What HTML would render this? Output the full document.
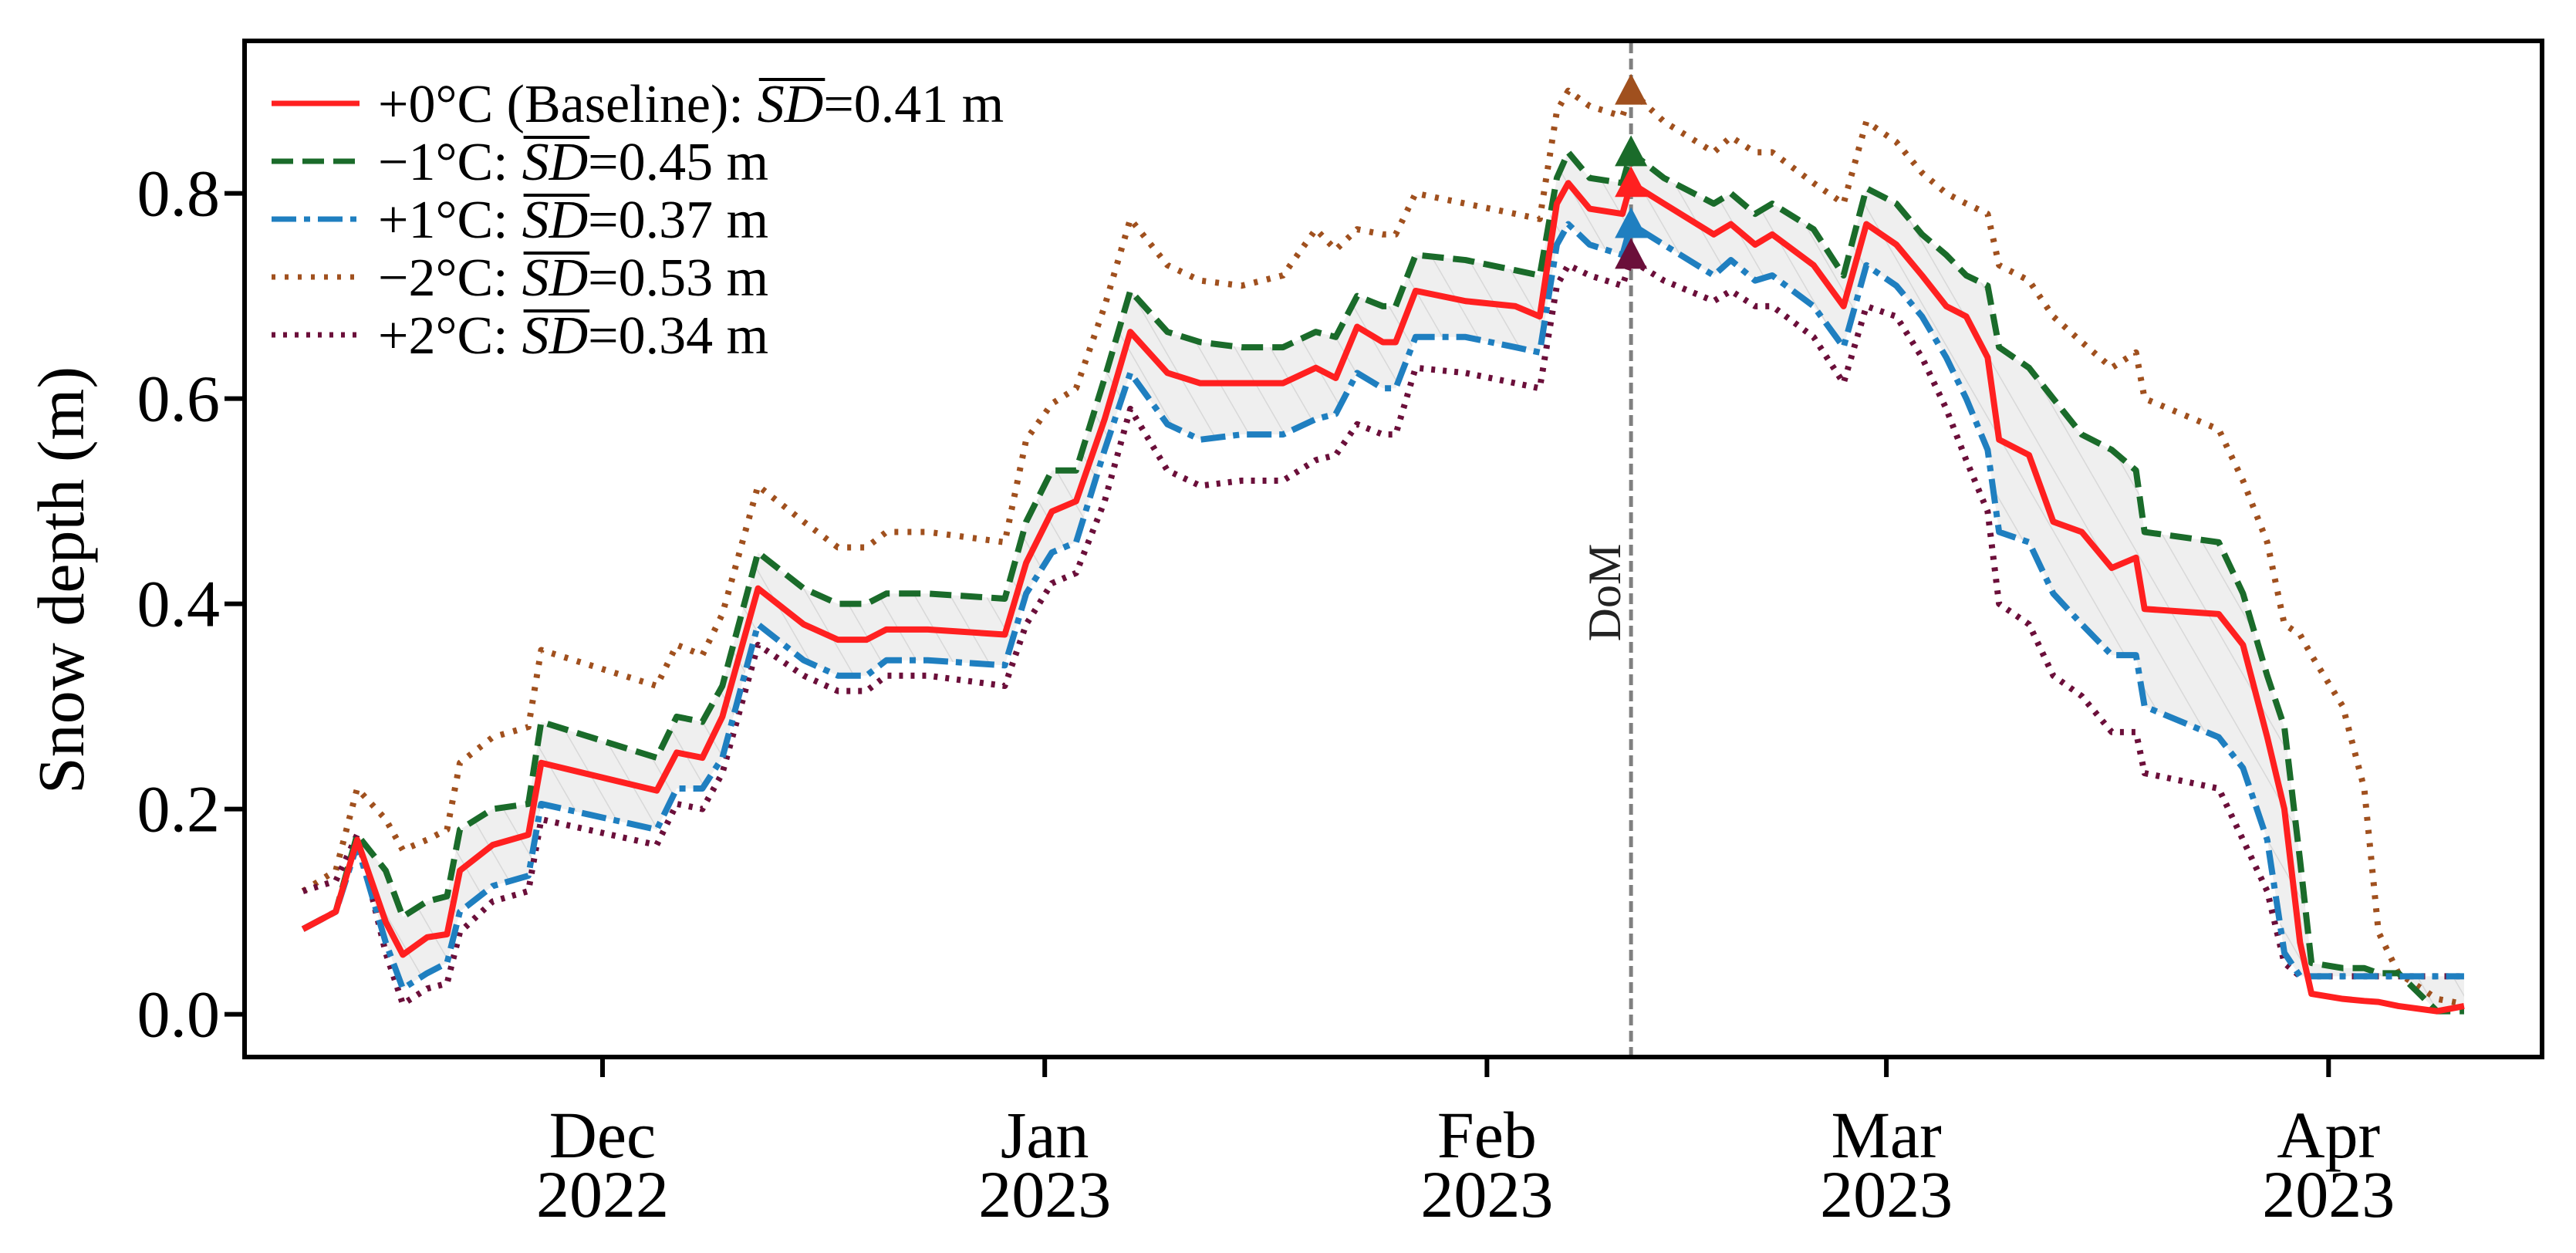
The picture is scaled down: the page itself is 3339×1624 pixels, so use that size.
<!DOCTYPE html>
<html><head><meta charset="utf-8">
<style>
html,body{margin:0;padding:0;background:#fff;}
svg{display:block;font-family:"Liberation Serif",serif;}
</style></head>
<body>
<svg id="chart" width="3339" height="1624" viewBox="0 0 3339 1624" xmlns="http://www.w3.org/2000/svg">
<defs>
<pattern id="hatch" patternUnits="userSpaceOnUse" width="40" height="40" patternTransform="rotate(-30)">
<rect width="40" height="40" fill="#efefef"/>
<line x1="0" y1="0" x2="0" y2="40" stroke="#d8d8d8" stroke-width="3"/>
</pattern>
<clipPath id="plotclip"><rect x="317" y="55" width="2977" height="1313"/></clipPath>
</defs>
<g id="plot" clip-path="url(#plotclip)"></g>
<g id="axes"></g>
</svg>
<script>
// days relative to 1 Dec 2022
const days = [-21,-18.7,-17.2,-15.2,-14,-12.3,-10.9,-10,-7.7,-5.2,-4.3,3.8,5.2,7,8.4,10.9,14.1,16.5,18.5,19.9,22.8,28.2,29.7,31.5,33.2,35.2,37,39.6,41.9,44.8,47.7,50,51.4,52.9,54.7,55.6,57,60.5,64,65.7,66.9,67.7,69.2,71.5,72.1,74.4,77.9,79.1,80.8,82,84.9,87,88.6,90.7,92.5,94.2,95.6,97.1,97.9,100,101.7,103.7,105.8,107.5,108.1,113.3,115,116.7,117.9,119,119.8,122,123.5,124.5,125.9,128.6,130.5];
const base = [0.083,0.1,0.17,0.09,0.058,0.075,0.078,0.14,0.165,0.175,0.245,0.218,0.255,0.25,0.29,0.415,0.38,0.365,0.365,0.375,0.375,0.37,0.44,0.49,0.5,0.58,0.665,0.625,0.615,0.615,0.615,0.63,0.62,0.67,0.655,0.655,0.705,0.695,0.69,0.68,0.79,0.81,0.785,0.78,0.81,0.79,0.76,0.77,0.75,0.76,0.73,0.69,0.77,0.75,0.72,0.69,0.68,0.64,0.56,0.545,0.48,0.47,0.435,0.445,0.395,0.39,0.36,0.27,0.2,0.07,0.02,0.015,0.013,0.012,0.008,0.003,0.008];
const minus1 = [0.083,0.1,0.175,0.14,0.095,0.11,0.115,0.18,0.2,0.205,0.285,0.25,0.29,0.285,0.32,0.45,0.415,0.4,0.4,0.41,0.41,0.405,0.48,0.53,0.53,0.62,0.705,0.665,0.655,0.65,0.65,0.665,0.66,0.7,0.69,0.69,0.74,0.735,0.725,0.72,0.815,0.84,0.815,0.81,0.84,0.815,0.79,0.8,0.78,0.79,0.765,0.72,0.805,0.79,0.76,0.74,0.72,0.71,0.65,0.63,0.6,0.565,0.55,0.53,0.47,0.46,0.41,0.33,0.28,0.15,0.05,0.045,0.045,0.04,0.04,0.003,0.003];
const plus1 = [0.083,0.1,0.165,0.07,0.025,0.04,0.05,0.1,0.125,0.135,0.205,0.18,0.22,0.22,0.25,0.38,0.345,0.33,0.33,0.345,0.345,0.34,0.41,0.45,0.46,0.55,0.625,0.575,0.56,0.565,0.565,0.58,0.585,0.625,0.61,0.61,0.66,0.66,0.65,0.645,0.75,0.77,0.75,0.74,0.77,0.75,0.72,0.735,0.715,0.72,0.69,0.65,0.73,0.71,0.68,0.64,0.6,0.55,0.47,0.46,0.41,0.38,0.35,0.35,0.3,0.27,0.24,0.17,0.06,0.037,0.037,0.037,0.037,0.037,0.037,0.037,0.037];
const minus2 = [0.12,0.14,0.22,0.19,0.16,0.17,0.18,0.245,0.27,0.28,0.355,0.32,0.36,0.35,0.39,0.515,0.48,0.455,0.455,0.47,0.47,0.46,0.56,0.595,0.61,0.69,0.775,0.73,0.715,0.71,0.72,0.765,0.745,0.765,0.76,0.76,0.8,0.79,0.78,0.775,0.88,0.9,0.885,0.875,0.9,0.87,0.84,0.855,0.84,0.84,0.81,0.79,0.87,0.85,0.82,0.8,0.79,0.78,0.73,0.715,0.68,0.655,0.63,0.645,0.6,0.57,0.52,0.46,0.38,0.37,0.35,0.3,0.22,0.08,0.04,0.015,0.01];
const plus2 = [0.12,0.13,0.175,0.06,0.01,0.025,0.03,0.08,0.11,0.12,0.19,0.165,0.205,0.2,0.235,0.36,0.33,0.315,0.315,0.33,0.33,0.32,0.38,0.42,0.43,0.5,0.59,0.53,0.515,0.52,0.52,0.54,0.545,0.575,0.565,0.565,0.63,0.625,0.615,0.61,0.71,0.73,0.72,0.71,0.735,0.715,0.695,0.705,0.69,0.69,0.66,0.615,0.69,0.68,0.64,0.59,0.54,0.49,0.4,0.38,0.33,0.31,0.275,0.275,0.235,0.22,0.17,0.12,0.05,0.037,0.037,0.037,0.037,0.037,0.037,0.037,0.037];
const domDay = 72.1;
const peakVals = [0.9,0.84,0.81,0.77,0.74];
const peakColors = ["#a0501e","#1a6b2a","#ff2020","#1f7fc0","#6b0f3a"];
const yTicks = [0.0,0.2,0.4,0.6,0.8];
const yTickLabels = ["0.0","0.2","0.4","0.6","0.8"];
const xTickDays = [0,31,62,90,121];
const xTickMonths = ["Dec","Jan","Feb","Mar","Apr"];
const xTickYears = ["2022","2023","2023","2023","2023"];

const NS="http://www.w3.org/2000/svg";
const X0=317,X1=3295,Y0=55,Y1=1370;
function xs(d){return 781 + d*18.49;}
function ys(v){return 1314.6 - v*1330;}
function mk(tag,attrs,parent){const e=document.createElementNS(NS,tag);for(const k in attrs)e.setAttribute(k,attrs[k]);parent.appendChild(e);return e;}
const plot=document.getElementById('plot'), axes=document.getElementById('axes');

let pts=days.map((d,i)=>xs(d)+","+ys(minus1[i]));
for(let i=days.length-1;i>=0;i--)pts.push(xs(days[i])+","+ys(plus1[i]));
const band=mk('polygon',{points:pts.join(" "),fill:"url(#hatch)",stroke:"none"},plot);



const dom=mk('line',{x1:xs(domDay),x2:xs(domDay),y1:Y0,y2:Y1,stroke:"#808080","stroke-width":5,"stroke-dasharray":"14,7"},plot);



function series(vals,color,dash,name){
  const p=mk('polyline',{points:days.map((d,i)=>xs(d)+","+ys(vals[i])).join(" "),fill:"none",stroke:color,"stroke-width":8,"stroke-linejoin":"round"},plot);
  if(dash)p.setAttribute('stroke-dasharray',dash);
  
  
}
series(minus2,"#a0501e","5,12","line-minus2");
series(plus2,"#6b0f3a","5,10","line-plus2");
series(minus1,"#1a6b2a","28,12","line-minus1");
series(plus1,"#1f7fc0","32,10,8,10","line-plus1");
series(base,"#ff2020",null,"line-baseline");

peakVals.forEach((v,i)=>{
  const cx=xs(domDay),cy=ys(v);
  const t=mk('polygon',{points:`${cx-21},${cy+18} ${cx+21},${cy+18} ${cx},${cy-22}`,fill:peakColors[i]},plot);
  
  
});
const dt=mk('text',{x:0,y:0,transform:`translate(${xs(domDay)-14},768) rotate(-90)`,"text-anchor":"middle","font-size":60,fill:"#222"},plot);
dt.textContent="DoM";



const fr=mk('rect',{x:X0,y:Y0-2,width:X1-X0,height:Y1-Y0+2,fill:"none",stroke:"#000","stroke-width":6},axes);



yTicks.forEach((v,i)=>{
  const y=ys(v);
  const l=mk('line',{x1:X0-26,x2:X0,y1:y,y2:y,stroke:"#000","stroke-width":6},axes);
  
  
  const t=mk('text',{x:X0-32,y:y+29,"text-anchor":"end","font-size":86},axes);
  t.textContent=yTickLabels[i];
  
  
});
xTickDays.forEach((d,i)=>{
  const x=xs(d);
  const l=mk('line',{x1:x,x2:x,y1:Y1,y2:Y1+26,stroke:"#000","stroke-width":6},axes);
  
  
  const t=mk('text',{x:x,y:1500,"text-anchor":"middle","font-size":86},axes);
  t.textContent=xTickMonths[i];
  
  
  const t2=mk('text',{x:x,y:1577,"text-anchor":"middle","font-size":86},axes);
  t2.textContent=xTickYears[i];
  
  
});
const yl=mk('text',{x:0,y:0,transform:"translate(108,752) rotate(-90)","text-anchor":"middle","font-size":86},axes);
yl.textContent="Snow depth (m)";



const legItems=[["+0°C (Baseline):","0.41","#ff2020",null],["−1°C:","0.45","#1a6b2a","28,12"],["+1°C:","0.37","#1f7fc0","32,10,8,10"],["−2°C:","0.53","#a0501e","5,12"],["+2°C:","0.34","#6b0f3a","5,10"]];
legItems.forEach((it,i)=>{
  const y=134+i*75;
  const l=mk('line',{x1:352,x2:466,y1:y,y2:y,stroke:it[2],"stroke-width":7},axes);
  if(it[3])l.setAttribute('stroke-dasharray',it[3]);
  
  
  const by=y+24;
  const a=mk('text',{x:490,y:by,"font-size":70},axes);
  a.textContent=it[0];
  
  
  const ax=490+a.getComputedTextLength()+18;
  const b=mk('text',{x:ax,y:by,"font-size":70,"font-style":"italic"},axes);
  b.textContent="SD";
  
  
  const bw=b.getComputedTextLength();
  const ov=mk('line',{x1:ax+2,x2:ax+bw+2,y1:by-55,y2:by-55,stroke:"#000","stroke-width":4},axes);
  
  
  const c=mk('text',{x:ax+bw,y:by,"font-size":70},axes);
  c.textContent="="+it[1]+" m";
  
  
});
</script>
</body></html>
